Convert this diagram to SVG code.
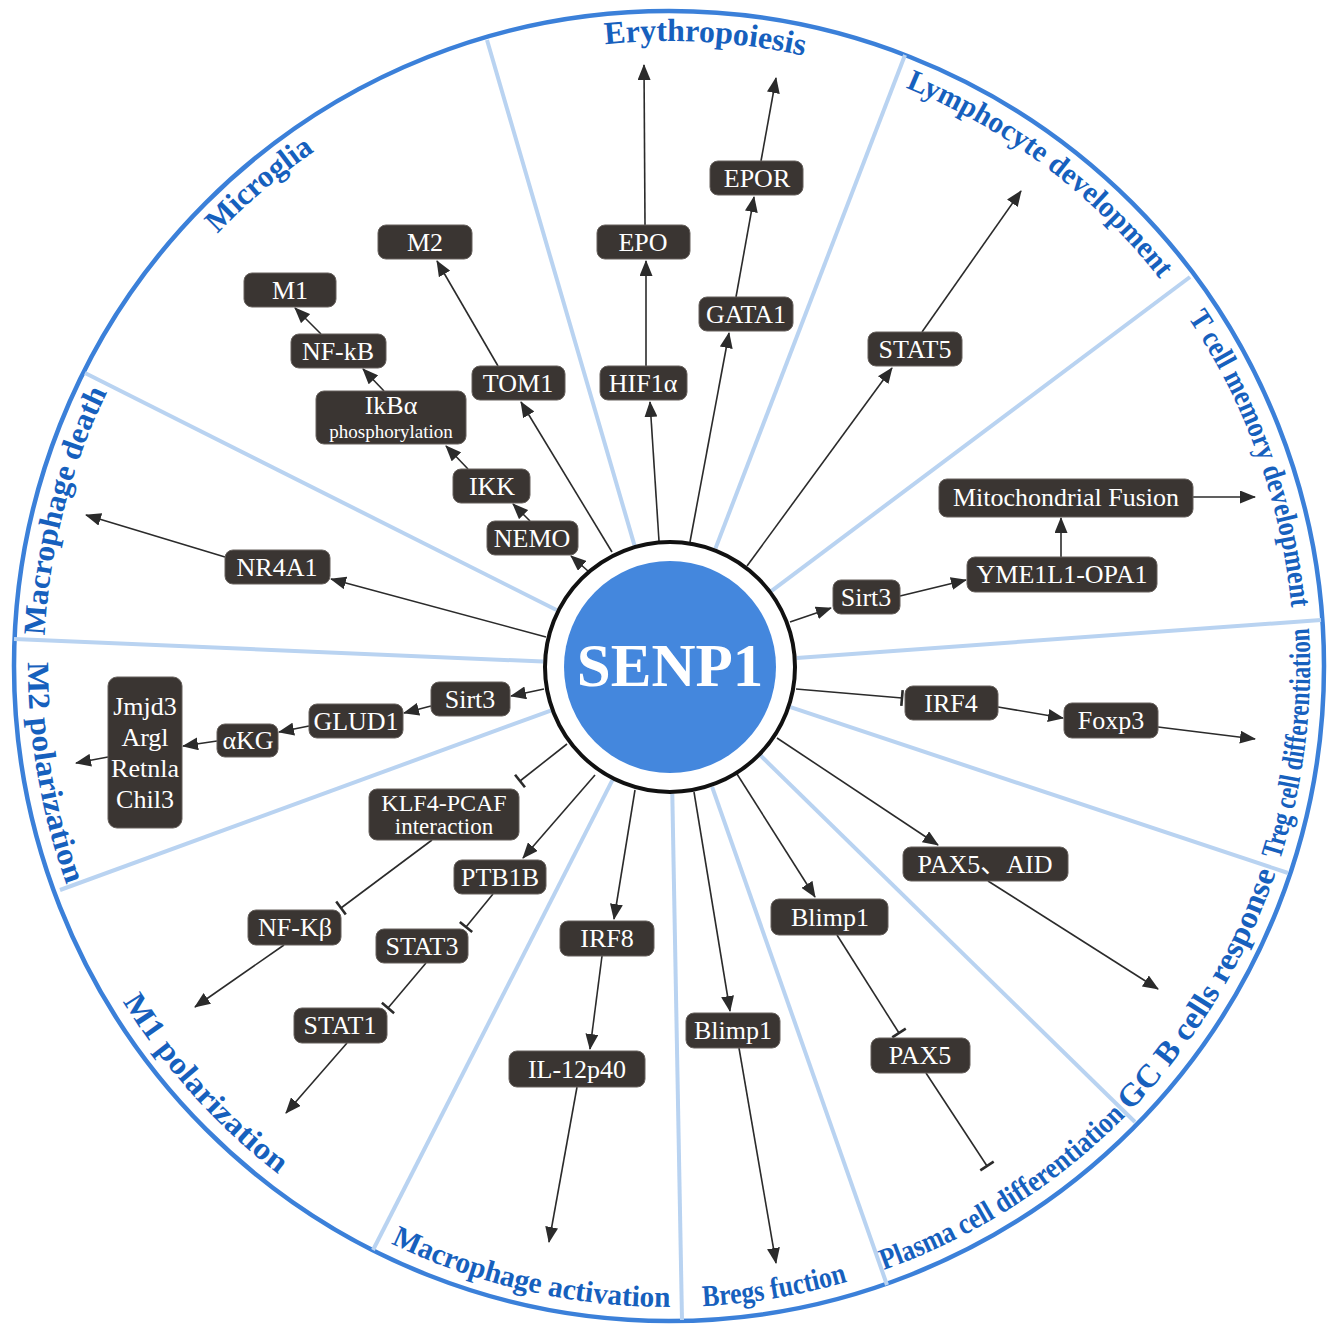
<svg xmlns="http://www.w3.org/2000/svg" width="1331" height="1326" viewBox="0 0 1331 1326">
<style>
.div{stroke:#b9d3f1;stroke-width:4;fill:none}
.lab{font-family:"Liberation Serif","Times New Roman",serif;font-weight:bold;fill:#1660bd;font-size:30px}
.box{fill:#3a3532;stroke:#66605c;stroke-width:1}
.nt{font-family:"Liberation Serif","Times New Roman","Noto Sans CJK SC",serif;fill:#ffffff;font-size:26px;text-anchor:middle}
.ln{stroke:#2b2b2b;stroke-width:1.6;fill:none}
.a{marker-end:url(#ah)}
.t{marker-end:url(#tb)}
</style>
<defs>
<marker id="ah" markerWidth="16" markerHeight="13" refX="15" refY="6.5" orient="auto" markerUnits="userSpaceOnUse"><path d="M0,0 L16,6.5 L0,13 z" fill="#2b2b2b"/></marker>
<marker id="tb" markerWidth="4" markerHeight="18" refX="2" refY="9" orient="auto" markerUnits="userSpaceOnUse"><path d="M2,1 L2,17" stroke="#2b2b2b" stroke-width="2.6"/></marker>
<path id="p1" d="M52.75,561.77 A625,625 0 0 1 664.64,41.01"/>
<path id="p2" d="M295.48,164.89 A625,625 0 0 1 1097.64,211.14"/>
<path id="p3" d="M636.29,41.86 A625,625 0 0 1 1277.98,525.41"/>
<path id="p4" d="M985.27,126.93 A625,625 0 0 1 1254.80,883.86"/>
<path id="p5" d="M105.36,936.0 A625,625 0 0 1 305.17,157.81"/>
<path id="p6" d="M1105.34,1135.56 A641,641 0 0 0 1207.20,317.83"/>
<path id="p7" d="M873.45,1273.52 A641,641 0 0 0 1302.80,570.14"/>
<path id="p8" d="M585.33,1301.51 A641,641 0 0 0 1280.33,858.76"/>
<path id="p9" d="M344.63,1218.87 A641,641 0 0 0 1157.15,1081.44"/>
<path id="p10" d="M158.42,1053.55 A641,641 0 0 0 961.96,1236.12"/>
<path id="p11" d="M28.39,688.37 A641,641 0 0 0 579.79,1300.76"/>
<path id="p12" d="M115.0,343.56 A641,641 0 0 0 255.40,1155.71"/>
</defs>
<rect width="1331" height="1326" fill="#ffffff"/>
<circle cx="669" cy="666" r="655" fill="none" stroke="#3b80d9" stroke-width="4.5"/>
<g id="dividers">
<line class="div" x1="634.4" y1="545.1" x2="487" y2="40"/>
<line class="div" x1="715.5" y1="548.4" x2="905" y2="55"/>
<line class="div" x1="771.6" y1="590.8" x2="1190" y2="277"/>
<line class="div" x1="796.7" y1="657.9" x2="1321" y2="620"/>
<line class="div" x1="790.5" y1="707.2" x2="1288" y2="873"/>
<line class="div" x1="760.8" y1="755.8" x2="1135" y2="1122"/>
<line class="div" x1="712.1" y1="786.8" x2="887" y2="1285"/>
<line class="div" x1="672.3" y1="794" x2="682" y2="1320"/>
<line class="div" x1="612.4" y1="780.2" x2="373" y2="1250"/>
<line class="div" x1="550.7" y1="710.6" x2="60" y2="890"/>
<line class="div" x1="543.1" y1="661.6" x2="14" y2="639"/>
<line class="div" x1="556.5" y1="610" x2="85" y2="373"/>
</g>
<g id="labels">
<text class="lab" style="font-size:31px"><textPath href="#p1" startOffset="50%" text-anchor="middle" textLength="128" lengthAdjust="spacingAndGlyphs">Microglia</textPath></text>
<text class="lab" style="font-size:32px"><textPath href="#p2" startOffset="50%" text-anchor="middle" textLength="200" lengthAdjust="spacingAndGlyphs">Erythropoiesis</textPath></text>
<text class="lab"><textPath href="#p3" startOffset="50%" text-anchor="middle" textLength="322" lengthAdjust="spacingAndGlyphs">Lymphocyte development</textPath></text>
<text class="lab"><textPath href="#p4" startOffset="50%" text-anchor="middle" textLength="311" lengthAdjust="spacingAndGlyphs">T cell memory development</textPath></text>
<text class="lab" style="font-size:31px"><textPath href="#p5" startOffset="50%" text-anchor="middle" textLength="253" lengthAdjust="spacingAndGlyphs">Macrophage death</textPath></text>
<text class="lab"><textPath href="#p6" startOffset="50%" text-anchor="middle" textLength="235" lengthAdjust="spacingAndGlyphs">Treg cell differentiation</textPath></text>
<text class="lab" style="font-size:32px"><textPath href="#p7" startOffset="50%" text-anchor="middle" textLength="282" lengthAdjust="spacingAndGlyphs">GC B cells response</textPath></text>
<text class="lab"><textPath href="#p8" startOffset="50%" text-anchor="middle" textLength="289" lengthAdjust="spacingAndGlyphs">Plasma cell differentiation</textPath></text>
<text class="lab"><textPath href="#p9" startOffset="50%" text-anchor="middle" textLength="147" lengthAdjust="spacingAndGlyphs">Bregs fuction</textPath></text>
<text class="lab"><textPath href="#p10" startOffset="50%" text-anchor="middle" textLength="289" lengthAdjust="spacingAndGlyphs">Macrophage activation</textPath></text>
<text class="lab" style="font-size:31px"><textPath href="#p11" startOffset="50%" text-anchor="middle" textLength="234" lengthAdjust="spacingAndGlyphs">M1 polarization</textPath></text>
<text class="lab" style="font-size:31px"><textPath href="#p12" startOffset="50%" text-anchor="middle" textLength="227" lengthAdjust="spacingAndGlyphs">M2 polarization</textPath></text>
</g>
<g id="connectors">
<line class="ln a" x1="588" y1="571" x2="571" y2="556"/>
<line class="ln a" x1="530" y1="521" x2="513" y2="504"/>
<line class="ln a" x1="468" y1="469" x2="446" y2="446"/>
<line class="ln a" x1="384" y1="391" x2="363" y2="369"/>
<line class="ln a" x1="321" y1="334" x2="295" y2="308"/>
<line class="ln a" x1="612" y1="552" x2="521" y2="402"/>
<line class="ln a" x1="498" y1="366" x2="437" y2="261"/>
<line class="ln a" x1="659" y1="541" x2="650" y2="402"/>
<line class="ln a" x1="646" y1="366" x2="646" y2="261"/>
<line class="ln a" x1="645" y1="225" x2="644" y2="65"/>
<line class="ln a" x1="690" y1="542" x2="729" y2="333"/>
<line class="ln a" x1="736" y1="297" x2="754" y2="197"/>
<line class="ln a" x1="761" y1="161" x2="776" y2="78"/>
<line class="ln a" x1="747" y1="566" x2="892" y2="368"/>
<line class="ln a" x1="922" y1="332" x2="1021" y2="191"/>
<line class="ln a" x1="546" y1="637" x2="331" y2="579"/>
<line class="ln a" x1="225" y1="557" x2="86" y2="515"/>
<line class="ln a" x1="790" y1="622" x2="831" y2="608"/>
<line class="ln a" x1="900" y1="596" x2="966" y2="580"/>
<line class="ln a" x1="1061" y1="557" x2="1061" y2="518"/>
<line class="ln a" x1="1193" y1="497" x2="1255" y2="497"/>
<line class="ln t" x1="796" y1="689" x2="902" y2="698"/>
<line class="ln a" x1="998" y1="707" x2="1063" y2="718"/>
<line class="ln a" x1="1158" y1="727" x2="1255" y2="739"/>
<line class="ln a" x1="544" y1="689" x2="511" y2="696"/>
<line class="ln a" x1="431" y1="706" x2="404" y2="713"/>
<line class="ln a" x1="309" y1="726" x2="279" y2="732"/>
<line class="ln a" x1="217" y1="741" x2="183" y2="746"/>
<line class="ln a" x1="108" y1="757" x2="76" y2="763"/>
<line class="ln t" x1="567" y1="744" x2="520" y2="781"/>
<line class="ln t" x1="432" y1="840" x2="341" y2="908"/>
<line class="ln a" x1="284" y1="945" x2="195" y2="1007"/>
<line class="ln a" x1="595" y1="775" x2="523" y2="858"/>
<line class="ln t" x1="493" y1="894" x2="466" y2="927"/>
<line class="ln t" x1="426" y1="963" x2="388" y2="1008"/>
<line class="ln a" x1="347" y1="1043" x2="286" y2="1113"/>
<line class="ln a" x1="635" y1="790" x2="614" y2="919"/>
<line class="ln a" x1="602" y1="956" x2="590" y2="1049"/>
<line class="ln a" x1="577" y1="1087" x2="549" y2="1242"/>
<line class="ln a" x1="694" y1="792" x2="730" y2="1011"/>
<line class="ln a" x1="739" y1="1048" x2="776" y2="1263"/>
<line class="ln a" x1="737" y1="774" x2="815" y2="897"/>
<line class="ln t" x1="837" y1="935" x2="899" y2="1033"/>
<line class="ln t" x1="926" y1="1073" x2="987" y2="1166"/>
<line class="ln a" x1="777" y1="738" x2="938" y2="845"/>
<line class="ln a" x1="988" y1="881" x2="1158" y2="989"/>
</g>
<g id="senp1">
<circle cx="670" cy="667" r="125" fill="#ffffff" stroke="#111111" stroke-width="4"/>
<circle cx="670" cy="667" r="106" fill="#4487dd"/>
<text x="670" y="686" text-anchor="middle" font-family="Liberation Serif, Times New Roman, serif" font-weight="bold" font-size="61" fill="#ffffff">SENP1</text>
</g>
<g id="n-m2"><rect class="box" x="378" y="225" width="94" height="34" rx="8"/><text class="nt" x="425" y="251">M2</text></g>
<g id="n-m1"><rect class="box" x="244" y="273" width="92" height="34" rx="8"/><text class="nt" x="290" y="299">M1</text></g>
<g id="n-nfkb"><rect class="box" x="291" y="334" width="95" height="34" rx="8"/><text class="nt" x="338" y="360">NF-kB</text></g>
<g id="n-ikba"><rect class="box" x="316" y="391" width="150" height="53" rx="8"/><text class="nt" x="391" y="414">IkBα</text><text class="nt" x="391" y="438" style="font-size:19px">phosphorylation</text></g>
<g id="n-tom1"><rect class="box" x="472" y="366" width="93" height="34" rx="8"/><text class="nt" x="518" y="392">TOM1</text></g>
<g id="n-ikk"><rect class="box" x="453" y="469" width="77" height="34" rx="8"/><text class="nt" x="492" y="495">IKK</text></g>
<g id="n-nemo"><rect class="box" x="487" y="521" width="91" height="34" rx="8"/><text class="nt" x="532" y="547">NEMO</text></g>
<g id="n-hif1a"><rect class="box" x="600" y="366" width="87" height="34" rx="8"/><text class="nt" x="643" y="392">HIF1α</text></g>
<g id="n-epo"><rect class="box" x="597" y="225" width="93" height="34" rx="8"/><text class="nt" x="643" y="251">EPO</text></g>
<g id="n-gata1"><rect class="box" x="699" y="297" width="94" height="34" rx="8"/><text class="nt" x="746" y="323">GATA1</text></g>
<g id="n-epor"><rect class="box" x="710" y="161" width="93" height="34" rx="8"/><text class="nt" x="757" y="187">EPOR</text></g>
<g id="n-stat5"><rect class="box" x="868" y="332" width="94" height="34" rx="8"/><text class="nt" x="915" y="358">STAT5</text></g>
<g id="n-nr4a1"><rect class="box" x="225" y="550" width="105" height="34" rx="8"/><text class="nt" x="277" y="576">NR4A1</text></g>
<g id="n-mito"><rect class="box" x="939" y="479" width="254" height="38" rx="8"/><text class="nt" x="1066" y="506">Mitochondrial Fusion</text></g>
<g id="n-yme"><rect class="box" x="967" y="557" width="190" height="35" rx="8"/><text class="nt" x="1062" y="583">YME1L1-OPA1</text></g>
<g id="n-sirt3r"><rect class="box" x="833" y="580" width="67" height="34" rx="8"/><text class="nt" x="866" y="606">Sirt3</text></g>
<g id="n-sirt3l"><rect class="box" x="431" y="682" width="79" height="34" rx="8"/><text class="nt" x="470" y="708">Sirt3</text></g>
<g id="n-glud1"><rect class="box" x="309" y="704" width="94" height="34" rx="8"/><text class="nt" x="356" y="730">GLUD1</text></g>
<g id="n-akg"><rect class="box" x="217" y="724" width="61" height="33" rx="8"/><text class="nt" x="248" y="749">αKG</text></g>
<g id="n-jmjd3"><rect class="box" x="108" y="677" width="74" height="151" rx="9"/><text class="nt" x="145" y="715">Jmjd3</text><text class="nt" x="145" y="746">Argl</text><text class="nt" x="145" y="777">Retnla</text><text class="nt" x="145" y="808">Chil3</text></g>
<g id="n-irf4"><rect class="box" x="905" y="686" width="93" height="34" rx="8"/><text class="nt" x="951" y="712">IRF4</text></g>
<g id="n-foxp3"><rect class="box" x="1064" y="703" width="94" height="35" rx="8"/><text class="nt" x="1111" y="729">Foxp3</text></g>
<g id="n-klf4"><rect class="box" x="369" y="789" width="150" height="51" rx="8"/><text class="nt" x="444" y="811" style="font-size:24px">KLF4-PCAF</text><text class="nt" x="444" y="834" style="font-size:23px">interaction</text></g>
<g id="n-ptb1b"><rect class="box" x="454" y="860" width="92" height="34" rx="8"/><text class="nt" x="500" y="886">PTB1B</text></g>
<g id="n-pax5aid"><rect class="box" x="903" y="847" width="165" height="34" rx="8"/><text class="nt" x="985" y="873">PAX5、AID</text></g>
<g id="n-nfkbeta"><rect class="box" x="248" y="910" width="93" height="35" rx="8"/><text class="nt" x="295" y="936">NF-Kβ</text></g>
<g id="n-stat3"><rect class="box" x="376" y="929" width="92" height="34" rx="8"/><text class="nt" x="422" y="955">STAT3</text></g>
<g id="n-irf8"><rect class="box" x="560" y="921" width="94" height="35" rx="8"/><text class="nt" x="607" y="947">IRF8</text></g>
<g id="n-blimp1u"><rect class="box" x="771" y="899" width="117" height="36" rx="8"/><text class="nt" x="830" y="926">Blimp1</text></g>
<g id="n-stat1"><rect class="box" x="294" y="1008" width="93" height="35" rx="8"/><text class="nt" x="340" y="1034">STAT1</text></g>
<g id="n-blimp1l"><rect class="box" x="686" y="1013" width="94" height="35" rx="8"/><text class="nt" x="733" y="1039">Blimp1</text></g>
<g id="n-pax5"><rect class="box" x="871" y="1038" width="99" height="35" rx="8"/><text class="nt" x="920" y="1064">PAX5</text></g>
<g id="n-il12"><rect class="box" x="509" y="1051" width="136" height="36" rx="8"/><text class="nt" x="577" y="1078">IL-12p40</text></g>
</svg>
